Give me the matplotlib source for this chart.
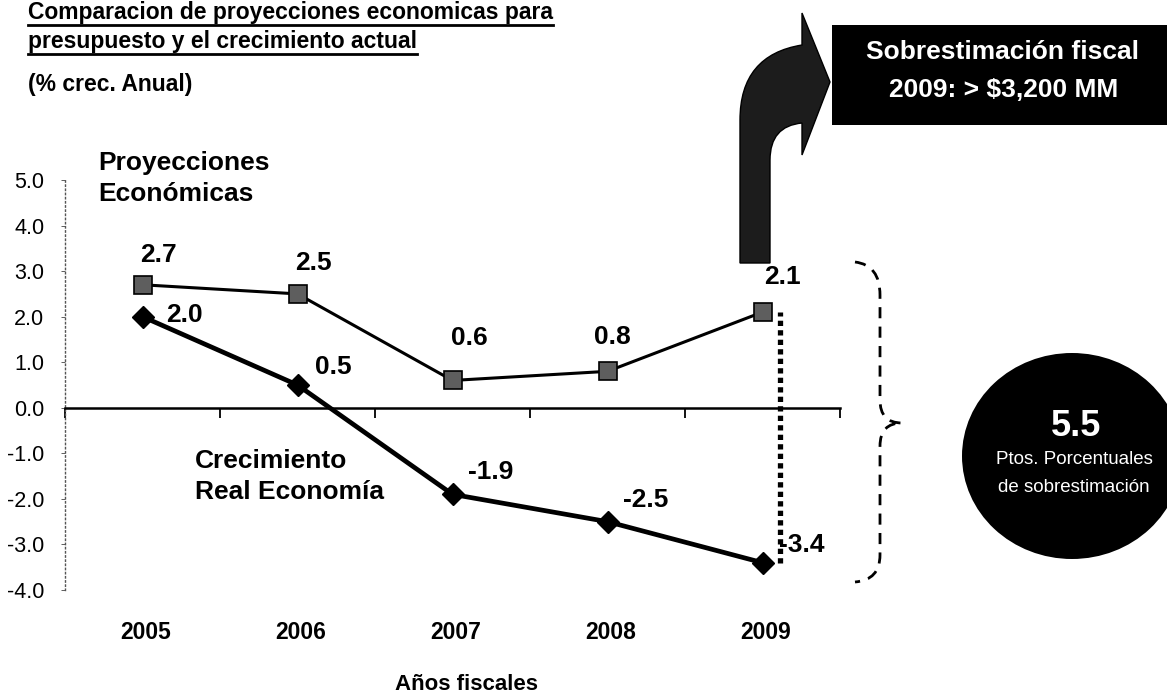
import numpy as np
import matplotlib
matplotlib.use('Agg')
import matplotlib.pyplot as plt
from matplotlib.path import Path
from matplotlib.patches import PathPatch, Ellipse, Rectangle
from matplotlib.lines import Line2D

plt.rcParams['font.family'] = ['Liberation Sans', 'DejaVu Sans']

years = ['2005', '2006', '2007', '2008', '2009']
proyecciones = [2.7, 2.5, 0.6, 0.8, 2.1]
real = [2.0, 0.5, -1.9, -2.5, -3.4]
yticks = [5.0, 4.0, 3.0, 2.0, 1.0, 0.0, -1.0, -2.0, -3.0, -4.0]

W, H = 1167, 698
fig = plt.figure(figsize=(W / 100, H / 100), dpi=100)


def px(x, y):
    # pixel coords (origin top-left) -> figure fraction
    return (x / W, 1 - y / H)


ax = fig.add_axes([65 / W, 1 - 590 / H, (840 - 65) / W, (590 - 180) / H])
x = np.arange(len(years))

ax.plot(x, proyecciones, color='black', lw=2.2, marker='s', ms=13,
        mfc='#5e5e5e', mec='black', mew=1.2, zorder=3)
ax.plot(x, real, color='black', lw=3.4, marker='D', ms=11,
        mfc='black', mec='black', zorder=3)

ax.set_xlim(-0.5, 4.5)
ax.set_ylim(-4, 5)
ax.set_yticks(yticks)
ax.set_yticklabels(['%.1f' % v for v in yticks], fontsize=15.5)
ax.set_xticks(np.arange(-0.5, 5, 1))
ax.set_xticklabels([])
ax.tick_params(axis='x', direction='out', length=7, width=1.3)
ax.tick_params(axis='y', direction='out', length=3, width=0.6, colors='#444444',
               labelcolor='black', pad=12)
for s in ['top', 'right']:
    ax.spines[s].set_visible(False)
ax.spines['bottom'].set_position(('data', 0))
ax.spines['bottom'].set_linewidth(1.8)
ax.spines['left'].set_linestyle((0, (1, 2)))
ax.spines['left'].set_color('#555555')
ax.spines['left'].set_linewidth(1)
ax.patch.set_alpha(0)

# value labels
lab = dict(fontsize=19, fontweight='bold', clip_on=False, zorder=6)
offs_p = [(0.1, 0.65), (0.106, 0.68), (0.106, 0.93), (0.03, 0.75), (0.126, 0.77)]
offs_r = [(0.268, 0.03), (0.229, 0.40), (0.248, 0.49), (0.248, 0.48), (0.25, 0.39)]
for i in range(len(years)):
    ax.text(x[i] + offs_p[i][0], proyecciones[i] + offs_p[i][1], '%.1f' % proyecciones[i],
            ha='center', va='center', **lab)
    ax.text(x[i] + offs_r[i][0], real[i] + offs_r[i][1], '%.1f' % real[i],
            ha='center', va='center', **lab)
    ax.text(x[i] + 0.02, -4.93, years[i], ha='center', va='center',
            fontsize=16.5, fontweight='bold', clip_on=False)

ax.text(-0.287, 5.03, 'Proyecciones\nEconómicas', fontsize=19, fontweight='bold',
        ha='left', va='center', linespacing=1.35, clip_on=False)
ax.text(0.339, -1.51, 'Crecimiento\nReal Economía', fontsize=19, fontweight='bold',
        ha='left', va='center', linespacing=1.35)
ax.text(2.09, -6.08, 'Años fiscales', fontsize=16, fontweight='bold',
        ha='center', va='center', clip_on=False)

# dotted gap line at 2009
ax.vlines(x[4] + 0.113, real[4], proyecciones[4], colors='black', lw=3.8,
          linestyles=[(0, (1, 0.8))], zorder=4)

# title
t1 = fig.text(28 / W, 1 - 19 / H, 'Comparacion de proyecciones economicas para',
              fontsize=16.5, fontweight='bold', va='baseline', ha='left')
t2 = fig.text(28 / W, 1 - 48 / H, 'presupuesto y el crecimiento actual',
              fontsize=16.5, fontweight='bold', va='baseline', ha='left')
fig.text(28 / W, 1 - 91 / H, '(% crec. Anual)',
         fontsize=16.5, fontweight='bold', va='baseline', ha='left')

# curved arrow
verts = [px(740, 263), px(740, 120), px(740, 55), px(802, 45),
         px(802, 13), px(830, 82), px(802, 155), px(802, 123),
         px(770, 126), px(770, 160), px(770, 263), px(740, 263)]
codes = [Path.MOVETO, Path.LINETO, Path.CURVE3, Path.CURVE3,
         Path.LINETO, Path.LINETO, Path.LINETO, Path.LINETO,
         Path.CURVE3, Path.CURVE3, Path.LINETO, Path.CLOSEPOLY]
fig.patches.append(PathPatch(Path(verts, codes), transform=fig.transFigure,
                             facecolor='#1c1c1c', edgecolor='black', lw=1))

# black box
bx0, by0 = px(832, 125)
bx1, by1 = px(1167, 25)
fig.patches.append(Rectangle((bx0, by0), bx1 - bx0, by1 - by0,
                             transform=fig.transFigure, facecolor='black', edgecolor='none'))
fig.text(1002 / W, 1 - 52 / H, 'Sobrestimación fiscal', color='white', fontsize=19,
         fontweight='bold', ha='center', va='center')
fig.text(1004 / W, 1 - 90 / H, '2009: > $3,200 MM', color='white', fontsize=19,
         fontweight='bold', ha='center', va='center')

# dashed brace
bverts = [px(855, 262), px(880, 265), px(880, 295), px(880, 400),
          px(880, 423), px(902, 423), px(880, 423), px(880, 446),
          px(880, 555), px(880, 580), px(855, 582)]
bcodes = [Path.MOVETO, Path.CURVE3, Path.CURVE3, Path.LINETO,
          Path.CURVE3, Path.CURVE3, Path.CURVE3, Path.CURVE3,
          Path.LINETO, Path.CURVE3, Path.CURVE3]
fig.patches.append(PathPatch(Path(bverts, bcodes), transform=fig.transFigure,
                             facecolor='none', edgecolor='black', lw=2,
                             linestyle=(0, (4, 3))))

# circle
cx, cy = px(1072, 456)
fig.patches.append(Ellipse((cx, cy), 2 * 110 / W, 2 * 103 / H, transform=fig.transFigure,
                           facecolor='black', edgecolor='none'))
fig.text(1076 / W, 1 - 427 / H, '5.5', color='white', fontsize=26,
         fontweight='bold', ha='center', va='center')
fig.text(1074 / W, 1 - 460 / H, 'Ptos. Porcentuales', color='white', fontsize=13.5,
         ha='center', va='center')
fig.text(1074 / W, 1 - 487 / H, 'de sobrestimación', color='white', fontsize=13.5,
         ha='center', va='center')

# underline title lines
fig.canvas.draw()
r = fig.canvas.get_renderer()
for t in (t1, t2):
    bb = t.get_window_extent(r)
    fig.add_artist(Line2D([bb.x0 / W, bb.x1 / W], [(bb.y0 - 1) / H] * 2,
                          transform=fig.transFigure, color='black', lw=2))

fig.savefig('out.png', dpi=100)
